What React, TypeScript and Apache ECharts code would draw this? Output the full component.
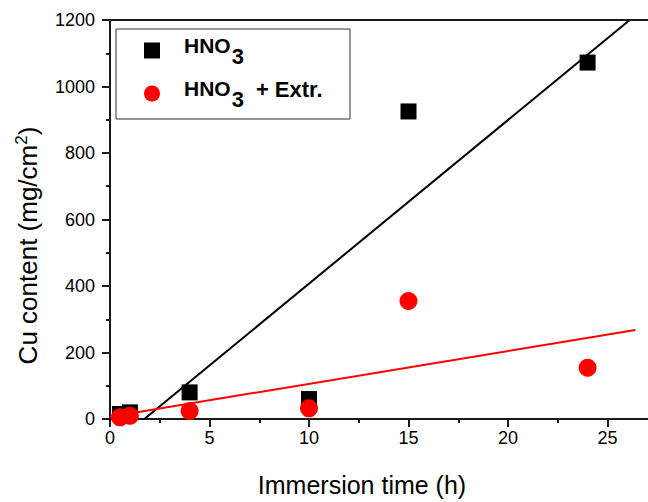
import React, { useEffect, useRef } from "react";
import * as echarts from "echarts";

// Immersion time (h)
const timeHours = [0.5, 1, 4, 10, 15, 24];
// Cu content (mg/cm²)
const cuHNO3 = [15, 20, 80, 60, 925, 1072];
const cuHNO3Extr = [5, 10, 24, 32, 355, 154];
// x-range of the linear fits
const fitRange = [0, 26.4];
const seriesNames = ["HNO3", "HNO3 + Extr."];

const FONT = '"Liberation Sans", Arial, Helvetica, sans-serif';

function linFit(xs: number[], ys: number[]) {
  const n = xs.length;
  const mx = xs.reduce((a, b) => a + b, 0) / n;
  const my = ys.reduce((a, b) => a + b, 0) / n;
  let sxx = 0;
  let sxy = 0;
  for (let i = 0; i < n; i++) {
    sxx += (xs[i] - mx) * (xs[i] - mx);
    sxy += (xs[i] - mx) * (ys[i] - my);
  }
  const slope = sxy / sxx;
  const icpt = my - slope * mx;
  return fitRange.map((x) => [x, icpt + slope * x]);
}

export default function App() {
  const ref = useRef<HTMLDivElement>(null);
  useEffect(() => {
    document.body.style.margin = "0";
    const chart = echarts.init(ref.current!, undefined, { renderer: "svg" });
    const axisColor = "#1a1a1a";
    const legendRich = {
      b: { fontSize: 21, fontWeight: "bold", fontFamily: FONT, color: "#000", lineHeight: 22, verticalAlign: "top" },
      s: { fontSize: 22, fontWeight: "bold", fontFamily: FONT, color: "#000", lineHeight: 22, padding: [10, 0, 0, 1], verticalAlign: "top" },
      t: { fontSize: 22, fontWeight: "bold", fontFamily: FONT, color: "#000", lineHeight: 22, padding: [0, 0, 0, 12], verticalAlign: "top" },
    };
    chart.setOption({
      animation: false,
      backgroundColor: "#fff",
      grid: { left: 110, top: 20, right: 13, bottom: 79, containLabel: false },
      legend: {
        left: 139,
        top: 30,
        orient: "vertical",
        itemWidth: 16,
        itemHeight: 16,
        itemGap: 11,
        selectedMode: false,
        data: [
          { name: seriesNames[0], icon: "rect" },
          { name: seriesNames[1], icon: "circle" },
        ],
        formatter: (name: string) =>
          name === seriesNames[0] ? "{b|HNO}{s|3}" : "{b|HNO}{s|3}{t|+ Extr.}",
        textStyle: { padding: [0, 0, 9, 19], rich: legendRich },
      },
      graphic: [
        {
          type: "rect",
          shape: { x: 116, y: 29, width: 234, height: 90 },
          style: { fill: "none", stroke: "#333", lineWidth: 1 },
          z: 10,
        },
      ],
      xAxis: [
        {
          type: "value",
          position: "bottom",
          min: 0,
          max: 30,
          interval: 5,
          axisLine: { onZero: false, lineStyle: { color: axisColor, width: 2 } },
          axisTick: { length: 8, lineStyle: { color: axisColor, width: 2 } },
          minorTick: { show: true, splitNumber: 2, length: 4, lineStyle: { color: axisColor, width: 2 } },
          splitLine: { show: false },
          axisLabel: {
            fontSize: 18,
            color: "#000",
            fontFamily: FONT,
            margin: 10,
            showMaxLabel: false,
            formatter: (v: number) => (v >= 30 ? "" : String(v)),
          },
          name: "{t|Immersion time (h)}",
          nameLocation: "middle",
          nameGap: 53,
          nameTextStyle: {
            rich: { t: { fontSize: 25, color: "#000", fontFamily: FONT, padding: [0, 93, 0, 0] } },
          },
        },
        {
          type: "value",
          position: "top",
          min: 0,
          max: 30,
          axisLine: { onZero: false, lineStyle: { color: axisColor, width: 2 } },
          axisTick: { show: false },
          axisLabel: { show: false },
          splitLine: { show: false },
        },
      ],
      yAxis: {
        type: "value",
        min: 0,
        max: 1200,
        interval: 200,
        axisLine: { show: true, onZero: false, lineStyle: { color: axisColor, width: 2 } },
        axisTick: { show: true, length: 8, lineStyle: { color: axisColor, width: 2 } },
        minorTick: { show: true, splitNumber: 2, length: 4, lineStyle: { color: axisColor, width: 2 } },
        splitLine: { show: false },
        axisLabel: { fontSize: 18, color: "#000", fontFamily: FONT, margin: 15, formatter: (v: number) => String(v) },
        name: "{t|Cu content (mg/cm}{sup|2}{e|)}",
        nameLocation: "middle",
        nameRotate: 90,
        nameGap: 69,
        nameTextStyle: {
          rich: {
            t: { fontSize: 26, color: "#000", fontFamily: FONT, lineHeight: 30, verticalAlign: "bottom" },
            sup: { fontSize: 17, color: "#000", fontFamily: FONT, lineHeight: 30, padding: [0, 0, 11, 0], verticalAlign: "bottom" },
            e: { fontSize: 26, color: "#000", fontFamily: FONT, lineHeight: 30, verticalAlign: "bottom", padding: [0, 52, 0, 0] },
          },
        },
      },
      series: [
        {
          name: "HNO3 fit",
          type: "line",
          data: linFit(timeHours, cuHNO3),
          showSymbol: false,
          clip: true,
          silent: true,
          lineStyle: { color: "#000", width: 2 },
          z: 2,
        },
        {
          name: "HNO3 + Extr. fit",
          type: "line",
          data: linFit(timeHours, cuHNO3Extr),
          showSymbol: false,
          clip: true,
          silent: true,
          lineStyle: { color: "#ff0000", width: 2 },
          z: 2,
        },
        {
          name: seriesNames[0],
          type: "scatter",
          symbol: "rect",
          symbolSize: 16,
          data: timeHours.map((t, i) => [t, cuHNO3[i]]),
          itemStyle: { color: "#000", opacity: 1 },
          z: 3,
        },
        {
          name: seriesNames[1],
          type: "scatter",
          symbol: "circle",
          symbolSize: 18,
          data: timeHours.map((t, i) => [t, cuHNO3Extr[i]]),
          itemStyle: { color: "#ff0000", opacity: 1 },
          z: 4,
        },
      ],
    });
    return () => chart.dispose();
  }, []);
  return (
    <div style={{ width: 648, height: 502, overflow: "hidden", position: "relative" }}>
      <div ref={ref} style={{ width: 720, height: 502 }} />
    </div>
  );
}
